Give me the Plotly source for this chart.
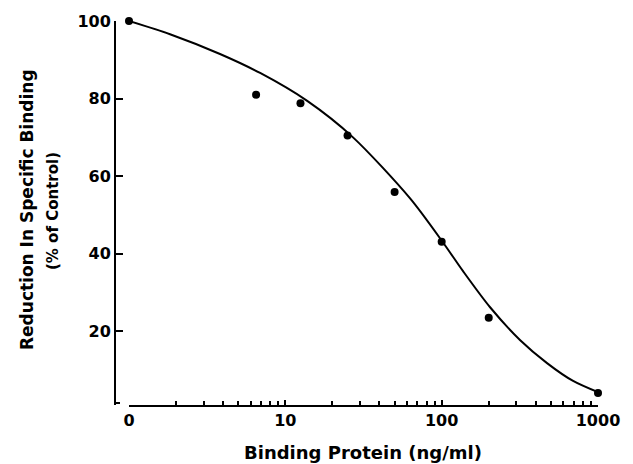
import plotly.graph_objects as go

# Measured data points (x = binding protein ng/ml; the "0" control is plotted at 1 on the log axis)
point_x = [1, 6.5, 12.5, 25, 50, 100, 200, 1000]
point_y = [100, 81, 78.8, 70.5, 55.9, 43.1, 23.5, 4.1]

# Fitted curve
curve_x = [1, 1.83, 3.82, 6.9, 13.8, 27.1, 63, 102, 137, 204, 318, 472, 693, 1000]
curve_y = [100, 96.6, 91.5, 86.6, 79.4, 70.0, 54.2, 42.9, 35.5, 26.2, 17.7, 11.8, 7.2, 4.3]

x_tick_vals = [1, 10, 100, 1000]
x_tick_text = ["0", "10", "100", "1000"]
x_minor_vals = [2, 3, 4, 5, 6, 7, 8, 9, 20, 30, 40, 50, 60, 70, 80, 90,
                200, 300, 400, 500, 600, 700, 800, 900]
y_tick_vals = [20, 40, 60, 80, 100]

FONT = "DejaVu Sans"
W, H = 633, 464
L, R, T, B = 115, 35, 19, 59
pw = W - L - R
ph = H - T - B

fig = go.Figure()
fig.add_trace(go.Scatter(x=curve_x, y=curve_y, mode="lines",
                         line=dict(color="black", width=2, shape="spline", smoothing=0.8),
                         hoverinfo="skip", showlegend=False))
fig.add_trace(go.Scatter(x=point_x, y=point_y, mode="markers",
                         marker=dict(color="black", size=8),
                         cliponaxis=False, showlegend=False))

fig.update_layout(
    width=W, height=H,
    margin=dict(l=L, r=R, t=T, b=B),
    paper_bgcolor="white", plot_bgcolor="white",
    font=dict(family=FONT, color="black", size=16, weight="bold"),
    xaxis=dict(type="log", range=[0, 3], domain=[14 / pw, 1],
               showline=True, linecolor="black", linewidth=2,
               showgrid=False, zeroline=False,
               tickmode="array", tickvals=x_tick_vals, ticktext=x_tick_text,
               ticks="inside", ticklen=5, tickwidth=1.5, tickcolor="black",
               minor=dict(tickmode="array", tickvals=x_minor_vals, ticks="inside",
                          ticklen=4, tickwidth=1.5, tickcolor="black", showgrid=False),
               tickfont=dict(family=FONT, size=16, weight="bold")),
    yaxis=dict(range=[1, 100], anchor="free", position=0,
               showline=True, linecolor="black", linewidth=2,
               showgrid=False, zeroline=False,
               tickmode="array", tickvals=y_tick_vals,
               ticks="inside", ticklen=7, tickwidth=1.5, tickcolor="black",
               tickfont=dict(family=FONT, size=16, weight="bold")),
)

def px_x(px):
    return (px - L) / pw

def px_y(py):
    return (H - B - py) / ph

fig.add_annotation(text="Reduction In Specific Binding", textangle=-90,
                   xref="paper", yref="paper", x=px_x(27), y=px_y(209),
                   xanchor="center", yanchor="middle",
                   showarrow=False, font=dict(family=FONT, size=17, weight="bold"))
fig.add_annotation(text="(% of Control)", textangle=-90,
                   xref="paper", yref="paper", x=px_x(53), y=px_y(210),
                   xanchor="center", yanchor="middle",
                   showarrow=False, font=dict(family=FONT, size=15, weight="bold"))
fig.add_annotation(text="Binding Protein (ng/ml)",
                   xref="paper", yref="paper", x=px_x(363), y=px_y(453),
                   xanchor="center", yanchor="middle",
                   showarrow=False, font=dict(family=FONT, size=18, weight="bold"))

# small foot at the bottom of the y-axis line
fig.add_shape(type="line", xref="paper", yref="paper",
              x0=px_x(115), x1=px_x(120), y0=px_y(403), y1=px_y(403),
              line=dict(color="black", width=2))

fig.write_html("out.html", config={"displayModeBar": False},
               post_script="document.body.style.margin='0';document.body.style.overflow='hidden';")
